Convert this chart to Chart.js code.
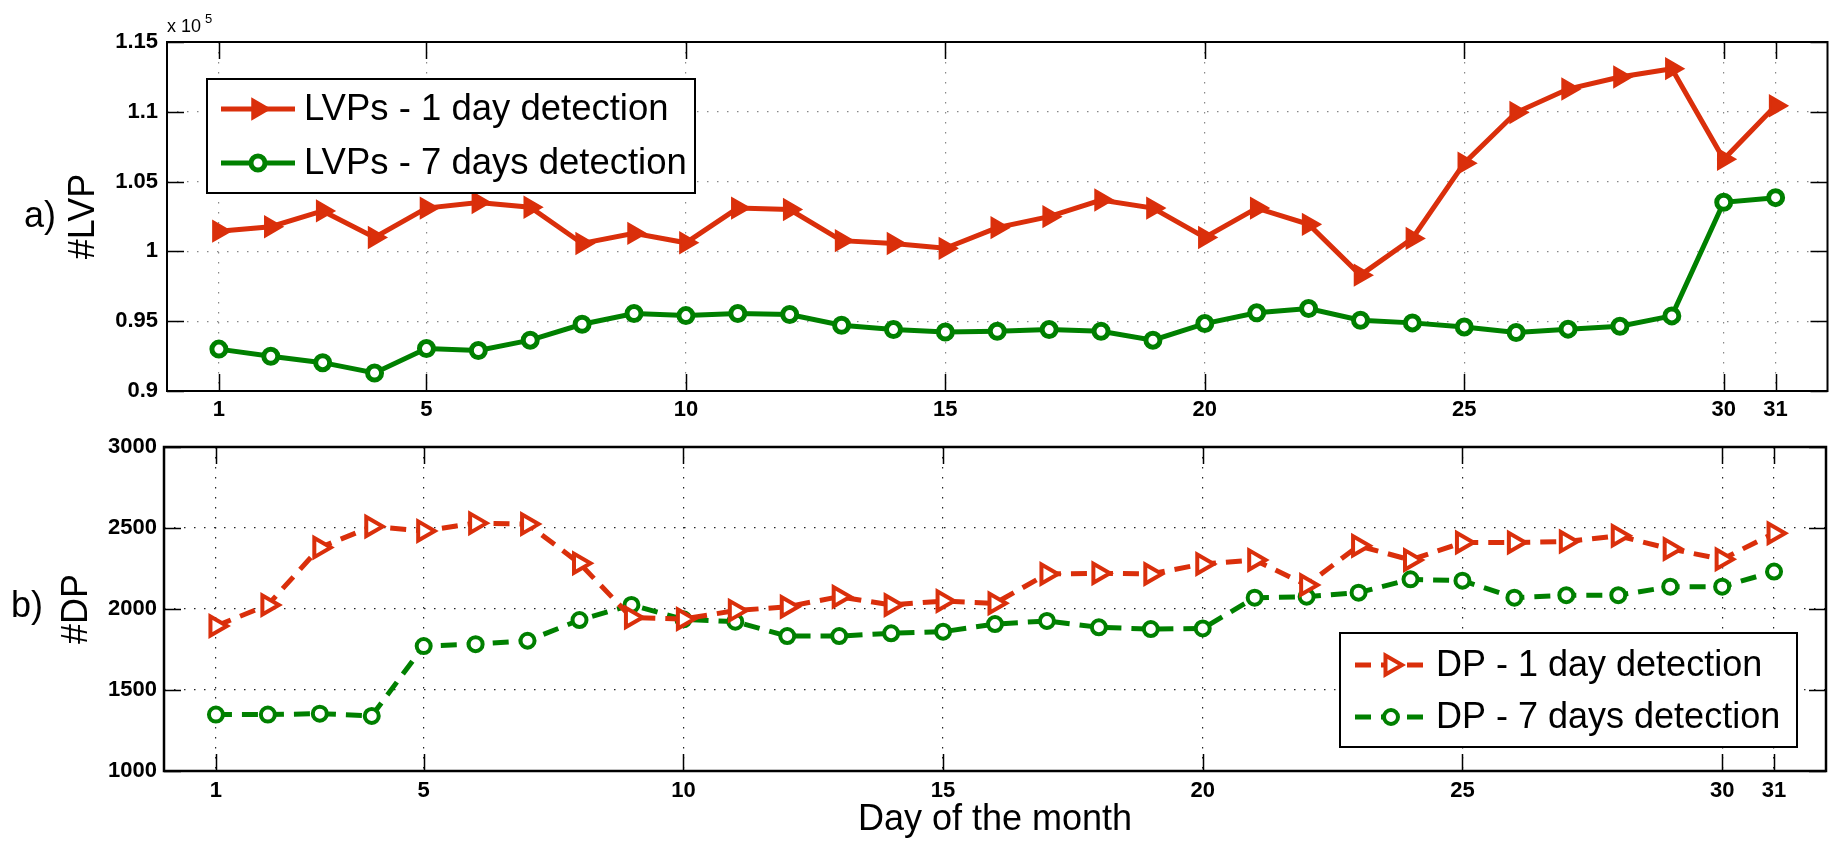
<!DOCTYPE html>
<html lang="en">
<head>
<meta charset="UTF-8">
<title>LVP and DP per day of the month</title>
<style>
  body { margin: 0; background: #fff; overflow: hidden; }
  #top-box, #bottom-box { position: absolute; left: 0; width: 1841px; }
  #top-box { top: 0; height: 430px; }
  #bottom-box { top: 420px; height: 425px; }
</style>
</head>
<body>
<div id="top-box"><canvas id="lvpChart"></canvas></div>
<div id="bottom-box"><canvas id="dpChart"></canvas></div>

<script src="https://cdn.jsdelivr.net/npm/chart.js"></script>
<script>
// ---- data ----
const days = [1, 2, 3, 4, 5, 6, 7, 8, 9, 10, 11, 12, 13, 14, 15, 16,
              17, 18, 19, 20, 21, 22, 23, 24, 25, 26, 27, 28, 29, 30, 31];
const dayTicks = [1, 5, 10, 15, 20, 25, 30, 31];

const lvp1Day = [101450, 101770, 102900, 101000, 103100, 103500, 103160, 100570,
                 101290, 100620, 103100, 103000, 100770, 100570, 100220, 101700,
                 102490, 103680, 103100, 101000, 103100, 101940, 98300, 100930,
                 106320, 109950, 111630, 112490, 113090, 106600, 110430];
const lvp7Days = [93000, 92490, 92030, 91290, 93040, 92900, 93640, 94780,
                  95550, 95400, 95550, 95480, 94710, 94400, 94230, 94280,
                  94400, 94280, 93640, 94830, 95600, 95910, 95070, 94880,
                  94590, 94190, 94430, 94640, 95380, 103520, 103850];
const lvpTicks = [90000, 95000, 100000, 105000, 110000, 115000];

const dp1Day = [1895, 2025, 2379, 2509, 2482, 2530, 2524, 2282,
                1948, 1938, 1990, 2014, 2076, 2025, 2049, 2035,
                2216, 2221, 2216, 2278, 2303, 2148, 2390, 2303,
                2410, 2410, 2416, 2452, 2371, 2307, 2468];
const dp7Days = [1348, 1348, 1354, 1340, 1771, 1783, 1804, 1932,
                 2025, 1936, 1922, 1833, 1833, 1850, 1860, 1907,
                 1926, 1887, 1876, 1880, 2070, 2076, 2101, 2183,
                 2175, 2070, 2085, 2085, 2138, 2138, 2231];
const dpTicks = [1000, 1500, 2000, 2500, 3000];

const RED = '#da2f0b';
const GREEN = '#008000';
const FAMILY = '"Liberation Sans", Arial, Helvetica, sans-serif';

function pts(values) {
    return days.map((d, i) => ({ x: d, y: values[i] }));
}

// MATLAB style: inward tick marks on all four sides and a closed box
const framePlugin = {
    id: 'frame',
    beforeDatasetsDraw(chart, args, opts) {
        const { ctx, chartArea: a } = chart;
        const xs = chart.scales.x, ys = chart.scales.y;
        const len = 17;
        ctx.save();
        ctx.strokeStyle = '#000';
        ctx.lineWidth = 1.5;
        ctx.beginPath();
        xs.ticks.forEach(t => {
            const px = Math.round(xs.getPixelForValue(t.value)) + 0.5;
            ctx.moveTo(px, a.bottom); ctx.lineTo(px, a.bottom - len);
            ctx.moveTo(px, a.top); ctx.lineTo(px, a.top + len);
        });
        ys.ticks.forEach(t => {
            const py = Math.round(ys.getPixelForValue(t.value)) + 0.5;
            ctx.moveTo(a.left, py); ctx.lineTo(a.left + len, py);
            ctx.moveTo(a.right, py); ctx.lineTo(a.right - len, py);
        });
        ctx.stroke();
        ctx.lineWidth = opts.boxWidth || 2;
        ctx.strokeRect(a.left, a.top, a.right - a.left, a.bottom - a.top);
        ctx.restore();
    }
};

// boxed legend drawn inside the plot like MATLAB's
const boxLegend = {
    id: 'boxLegend',
    afterDatasetsDraw(chart, args, o) {
        const ctx = chart.ctx;
        ctx.save();
        ctx.fillStyle = '#fff';
        ctx.fillRect(o.x, o.y, o.w, o.h);
        ctx.lineWidth = 2;
        ctx.strokeStyle = '#000';
        ctx.strokeRect(o.x, o.y, o.w, o.h);
        chart.data.datasets.forEach((ds, i) => {
            const y = o.rows[i];
            ctx.beginPath();
            ctx.setLineDash(ds.borderDash || []);
            ctx.lineWidth = ds.borderWidth;
            ctx.strokeStyle = ds.borderColor;
            ctx.moveTo(o.lineX[0], y);
            ctx.lineTo(o.lineX[1], y);
            ctx.stroke();
            ctx.setLineDash([]);
            ctx.fillStyle = ds.pointBackgroundColor;
            ctx.strokeStyle = ds.pointBorderColor;
            ctx.lineWidth = ds.pointBorderWidth;
            Chart.helpers.drawPoint(ctx, {
                pointStyle: ds.pointStyle,
                rotation: ds.pointRotation || 0,
                radius: ds.pointRadius,
                borderWidth: ds.pointBorderWidth
            }, o.markX, y);
            ctx.fillStyle = '#000';
            ctx.font = o.fontSize + 'px ' + FAMILY;
            ctx.textAlign = 'left';
            ctx.textBaseline = 'middle';
            ctx.fillText(ds.label, o.textX, y + 1);
        });
        ctx.restore();
    }
};

// loose texts: panel letters and the exponent note
const looseText = {
    id: 'looseText',
    afterDraw(chart, args, o) {
        const ctx = chart.ctx;
        ctx.save();
        ctx.fillStyle = '#000';
        (o.items || []).forEach(it => {
            ctx.font = it.font;
            ctx.textAlign = it.align || 'left';
            ctx.textBaseline = it.baseline || 'alphabetic';
            ctx.fillText(it.text, it.x, it.y);
        });
        ctx.restore();
    }
};

const tickFont = { family: FAMILY, size: 22, weight: 'bold' };

function xScale(opts) {
    return {
        type: 'linear',
        min: 0,
        max: 32,
        afterBuildTicks: s => { s.ticks = dayTicks.map(v => ({ value: v })); },
        afterFit: s => { s.height = opts.height; },
        grid: { color: opts.gridColor, lineWidth: 1.2, drawTicks: false },
        border: { display: false, dash: [1.5, 8.5] },
        ticks: { padding: opts.pad, font: tickFont, color: '#000', autoSkip: false, maxRotation: 0 },
        title: opts.title || { display: false }
    };
}

function yScale(opts) {
    return {
        min: opts.min,
        max: opts.max,
        afterBuildTicks: s => { s.ticks = opts.ticks.map(v => ({ value: v })); },
        afterFit: s => { s.width = opts.width; },
        grid: { color: opts.gridColor, lineWidth: 1.2, drawTicks: false },
        border: { display: false, dash: [1.5, 8.5] },
        ticks: { padding: opts.pad, font: tickFont, color: '#000', callback: opts.fmt },
        title: {
            display: true,
            text: opts.title,
            color: '#000',
            font: { family: FAMILY, size: 36 },
            padding: { top: opts.titlePad, bottom: 0 }
        }
    };
}

Chart.defaults.animation = false;

// ---- a) #LVP ----
new Chart(document.getElementById('lvpChart'), {
    type: 'line',
    data: {
        datasets: [{
            label: 'LVPs - 1 day detection',
            data: pts(lvp1Day),
            borderColor: RED,
            backgroundColor: RED,
            borderWidth: 5,
            pointStyle: 'triangle',
            pointRotation: 90,
            pointRadius: 11,
            pointBorderWidth: 2.5,
            pointBackgroundColor: RED,
            pointBorderColor: RED
        }, {
            label: 'LVPs - 7 days detection',
            data: pts(lvp7Days),
            borderColor: GREEN,
            backgroundColor: GREEN,
            borderWidth: 5,
            pointStyle: 'circle',
            pointRadius: 7,
            pointBorderWidth: 5,
            pointBackgroundColor: '#fff',
            pointBorderColor: GREEN
        }]
    },
    options: {
        responsive: true,
        maintainAspectRatio: false,
        events: [],
        layout: { padding: { left: 0, right: 2, top: 42, bottom: 0 } },
        scales: {
            x: xScale({ height: 39, gridColor: '#888', pad: 6 }),
            y: yScale({ min: 90000, max: 115000, ticks: lvpTicks, width: 167, gridColor: '#888',
                        pad: 9, fmt: v => String(v / 1e5), title: '#LVP', titlePad: 62 })
        },
        plugins: {
            legend: { display: false },
            tooltip: { enabled: false },
            frame: { boxWidth: 2 },
            boxLegend: { x: 207, y: 79, w: 488, h: 114, rows: [109, 163],
                         lineX: [221, 295], markX: 258, textX: 304, fontSize: 36.5 },
            looseText: { items: [
                { text: 'x 10', x: 167, y: 32, font: '18px ' + FAMILY },
                { text: '5', x: 205, y: 23, font: '13px ' + FAMILY },
                { text: 'a)', x: 40, y: 217, font: '36px ' + FAMILY, align: 'center', baseline: 'middle' }
            ] }
        }
    },
    plugins: [framePlugin, boxLegend, looseText]
});

// ---- b) #DP ----
new Chart(document.getElementById('dpChart'), {
    type: 'line',
    data: {
        datasets: [{
            label: 'DP - 1 day detection',
            data: pts(dp1Day),
            borderColor: RED,
            backgroundColor: RED,
            borderWidth: 5,
            borderDash: [16, 10],
            pointStyle: 'triangle',
            pointRotation: 90,
            pointRadius: 11,
            pointBorderWidth: 4,
            pointBackgroundColor: '#fff',
            pointBorderColor: RED
        }, {
            label: 'DP - 7 days detection',
            data: pts(dp7Days),
            borderColor: GREEN,
            backgroundColor: GREEN,
            borderWidth: 5,
            borderDash: [16, 10],
            pointStyle: 'circle',
            pointRadius: 7,
            pointBorderWidth: 4,
            pointBackgroundColor: '#fff',
            pointBorderColor: GREEN
        }]
    },
    options: {
        responsive: true,
        maintainAspectRatio: false,
        events: [],
        layout: { padding: { left: 0, right: 1, top: 27, bottom: 0 } },
        scales: {
            x: xScale({ height: 74, gridColor: '#222', pad: 7, title: {
                display: true,
                text: 'Day of the month',
                color: '#000',
                font: { family: FAMILY, size: 36 },
                padding: { top: 0, bottom: 3 }
            } }),
            y: yScale({ min: 1000, max: 3000, ticks: dpTicks, width: 164, gridColor: '#222',
                        pad: 7, fmt: v => String(v), title: '#DP', titlePad: 55 })
        },
        plugins: {
            legend: { display: false },
            tooltip: { enabled: false },
            frame: { boxWidth: 2.5 },
            boxLegend: { x: 1340, y: 213, w: 457, h: 114, rows: [245, 297],
                         lineX: [1355, 1424], markX: 1391, textX: 1436, fontSize: 36 },
            looseText: { items: [
                { text: 'b)', x: 27, y: 187, font: '36px ' + FAMILY, align: 'center', baseline: 'middle' }
            ] }
        }
    },
    plugins: [framePlugin, boxLegend, looseText]
});
</script>
</body>
</html>
